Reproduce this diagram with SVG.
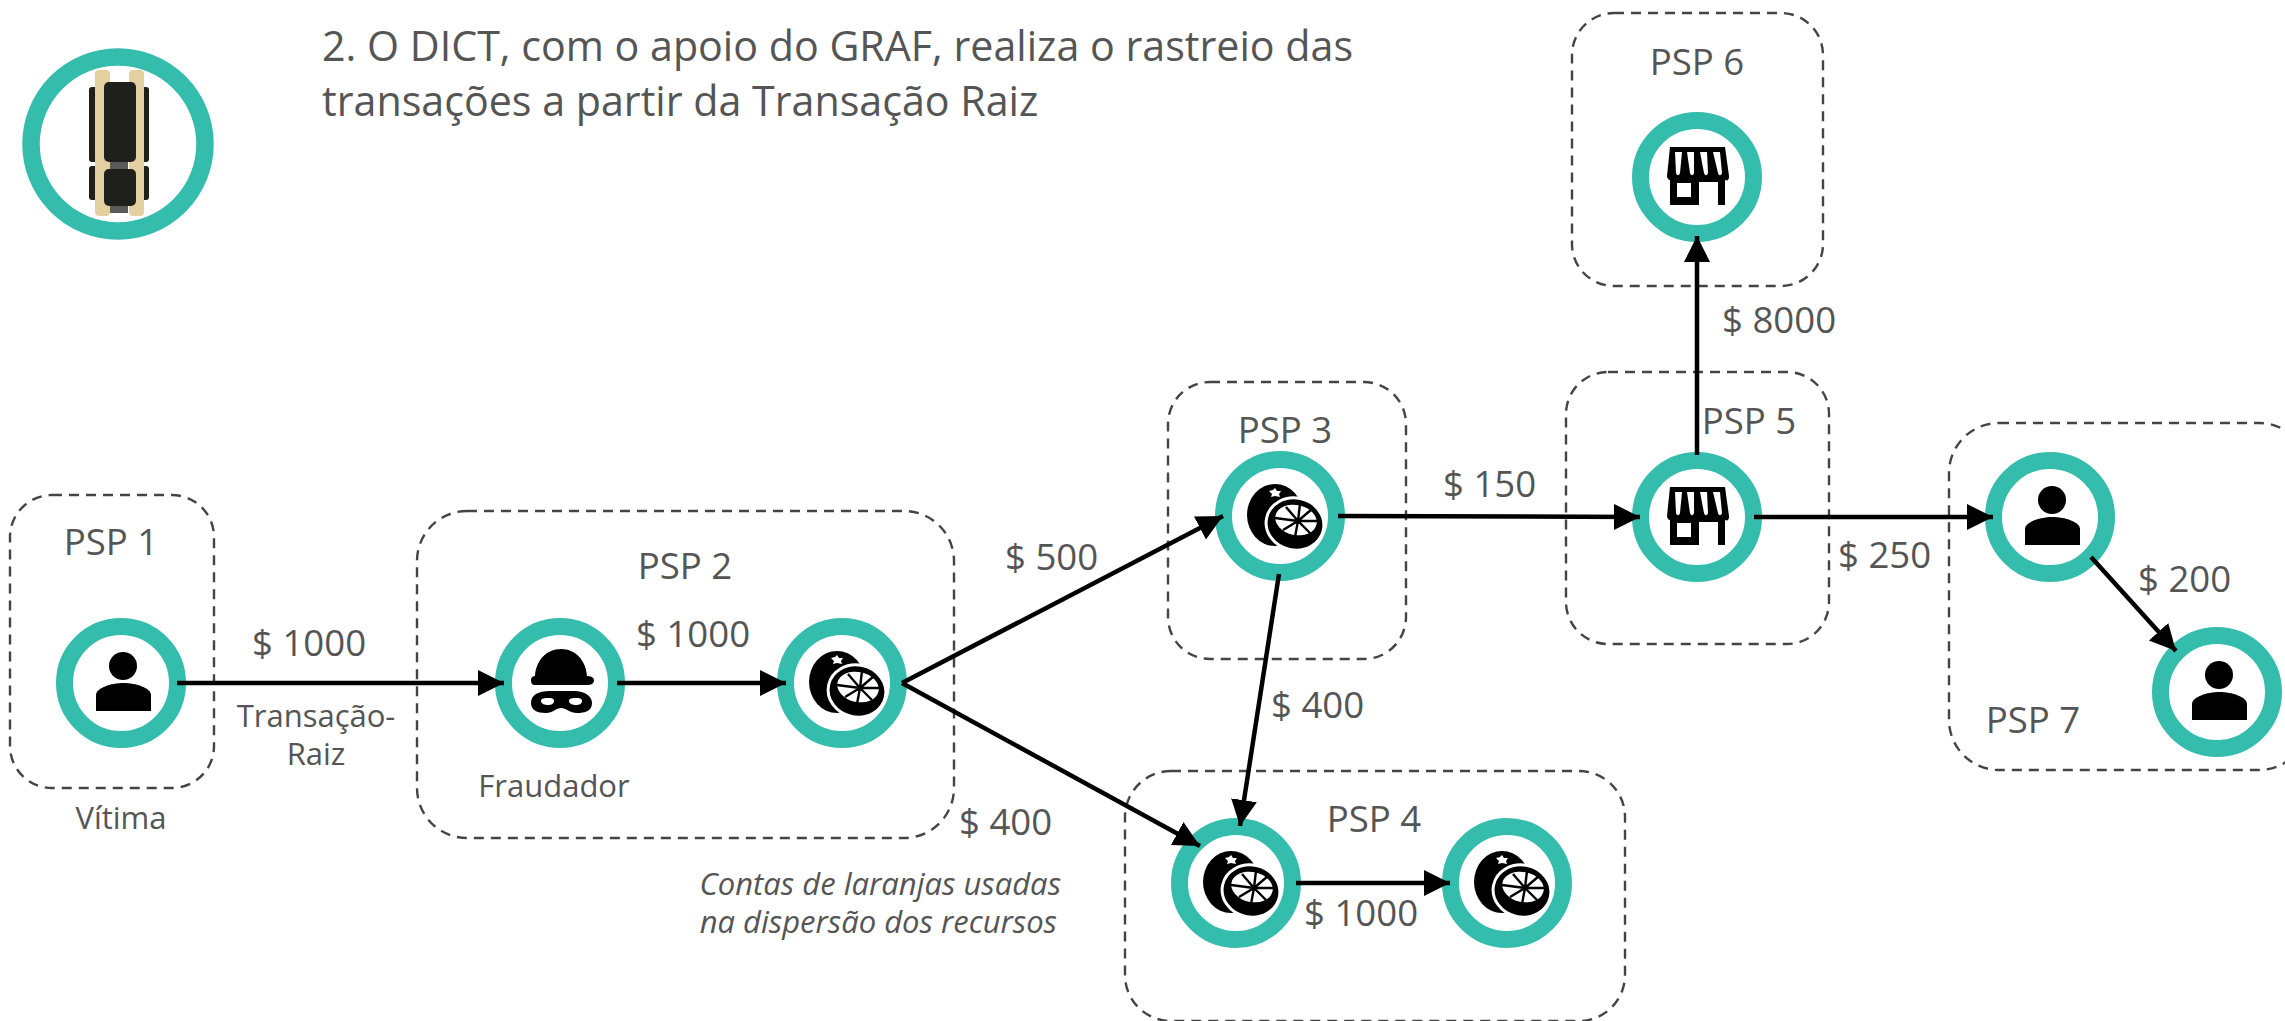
<svg xmlns="http://www.w3.org/2000/svg" width="2285" height="1021" viewBox="0 0 2285 1021">
<style>
text{font-family:"Open Sans","Noto Sans","Liberation Sans",sans-serif;fill:#555555}
.t{font-size:41.2px}
.l{font-size:36.6px}
.s{font-size:31px}
.i{font-size:31px;font-style:italic}
.m{text-anchor:middle}
.box{fill:none;stroke:#444444;stroke-width:2.4;stroke-dasharray:10 7}
.ring{fill:#fff;stroke:#34bdac;stroke-width:17}
.c{stroke:#000;stroke-width:4.5;fill:none;marker-end:url(#a)}
</style>
<defs>
<marker id="a" markerUnits="userSpaceOnUse" markerWidth="28" markerHeight="28" refX="26" refY="13" orient="auto"><path d="M0 0L26 13L0 26Z" fill="#000"/></marker>
<g id="person"><circle r="56.5" class="ring"/><circle cx="2" cy="-17" r="14"/><path d="M-25 28V12C-25 5-10 0 2.500 0S30 5 30 12V28Z"/></g>
<g id="orange"><circle r="56.5" class="ring"/><ellipse cx="-5" cy="-1" rx="28" ry="31" fill="#000"/><path d="M-5-28l2 3 4 0-2 3 1 3-5-1-4 1 1-3-3-3 4-1Z" fill="#fff"/><ellipse cx="15" cy="8" rx="29" ry="26" transform="rotate(12 15 8)" fill="#000" stroke="#fff" stroke-width="3"/><ellipse cx="16" cy="4" rx="21" ry="15" transform="rotate(12 16 4)" fill="#fff"/><path d="M18 5L20-12M18 5L32-7M18 5L38 5M18 5L30 17M18 5L15 21M18 5L3 14M18 5L-5 2M18 5L6-9" stroke="#000" stroke-width="2.4"/></g>
<g id="shop"><circle r="56.5" class="ring"/><path d="M-27-30H28L32-1V0C32 4 28 5 26 0C25 5 17 6 15 0C14 6 4 6 3 0C1 6-8 6-10 0C-11 6-19 6-21 0C-23 5-30 4-30-1Z" fill="#000"/><path d="M-22-25H-15L-17-4C-18-1-20-1-21-4ZM-10-25H-3L-3-4C-4-1-6-1-7-4ZM3-25H10L11-4C10-1 8-1 7-4ZM16-25H23L25-4C24-1 22-1 21-4Z" fill="#fff"/><path d="M-27 0H28V28H21V5H2V28H-27ZM-20 6V20H-6V6Z" fill="#000" fill-rule="evenodd"/></g>
</defs>
<g id="title"><text class="t" x="322" y="61">2. O DICT, com o apoio do GRAF, realiza o rastreio das</text><text class="t" x="322" y="116">transações a partir da Transação Raiz</text></g>
<g id="logo"><circle cx="118" cy="144" r="87" fill="#fff" stroke="#34bdac" stroke-width="17.5"/>
<rect x="89" y="87" width="12" height="75" rx="3" fill="#1f1f1c"/><rect x="137" y="87" width="12" height="75" rx="3" fill="#1f1f1c"/>
<rect x="89" y="166" width="12" height="34" rx="3" fill="#1f1f1c"/><rect x="137" y="166" width="12" height="34" rx="3" fill="#1f1f1c"/>
<rect x="95" y="70" width="15" height="146" rx="4" fill="#e3cf9f"/><rect x="129" y="70" width="15" height="146" rx="4" fill="#e3cf9f"/>
<rect x="110" y="160" width="18" height="10" fill="#5a5a58"/><rect x="110" y="204" width="18" height="9" fill="#5a5a58"/>
<rect x="104" y="82" width="32" height="80" rx="5" fill="#1f1f1c"/><rect x="104" y="169" width="32" height="37" rx="5" fill="#1f1f1c"/></g>
<g id="psp1"><rect class="box" x="10" y="495" width="204" height="293" rx="42"/><text class="l m" x="111" y="555">PSP 1</text><use href="#person" x="121" y="683"/><text class="s m" x="121" y="829">Vítima</text></g>
<g id="psp2"><rect class="box" x="417" y="511" width="537" height="327" rx="50"/><text class="l m" x="685" y="579">PSP 2</text>
<g id="fraudador"><circle cx="560" cy="683" r="56.5" class="ring"/><path d="M531 680C531 676 535 676 535 676C536 660 547 649 561 649S586 660 587 676C587 676 594 676 594 680S591 685 587 685H535C532 685 531 683 531 680Z"/><path fill-rule="evenodd" d="M531 703C531 695 538 691 550 691H574C585 691 592 696 592 703C592 711 585 713 577 713C570 713 566 708 561 708S553 713 546 713C537 713 531 710 531 703ZM541 701C541 704 545 705 548 705S554 704 554 701S551 698 548 698S541 698 541 701ZM569 701C569 704 573 705 576 705S582 704 582 701S579 698 576 698S569 698 569 701Z"/></g>
<use href="#orange" x="842" y="683"/><text class="s m" x="554" y="797">Fraudador</text></g>
<g id="psp3"><rect class="box" x="1168" y="382" width="238" height="277" rx="42"/><text class="l m" x="1285" y="443">PSP 3</text><use href="#orange" x="1280" y="516"/></g>
<g id="psp4"><rect class="box" x="1125" y="771" width="500" height="250" rx="46"/><text class="l m" x="1374" y="832">PSP 4</text><use href="#orange" x="1236" y="883"/><use href="#orange" x="1507" y="883"/></g>
<g id="psp5"><rect class="box" x="1566" y="372" width="263" height="272" rx="42"/><text class="l m" x="1749" y="434">PSP 5</text><use href="#shop" x="1697" y="517"/></g>
<g id="psp6"><rect class="box" x="1572" y="13" width="251" height="273" rx="42"/><text class="l m" x="1697" y="75">PSP 6</text><use href="#shop" x="1697" y="177"/></g>
<g id="psp7"><rect class="box" x="1949" y="423" width="360" height="347" rx="50"/><text class="l m" x="2033" y="733">PSP 7</text><use href="#person" x="2050" y="517"/><use href="#person" x="2217" y="692"/></g>
<g id="connectors">
<path class="c" d="M177 683H504"/><path class="c" d="M617 683H786"/>
<path class="c" d="M902 683L1223 516"/><path class="c" d="M902 683L1200 846"/>
<path class="c" d="M1279 574L1240 826"/><path class="c" d="M1338 516L1640 517"/>
<path class="c" d="M1296 883H1450"/><path class="c" d="M1697 455V236"/>
<path class="c" d="M1754 517H1993"/><path class="c" d="M2091 557L2176 651"/>
</g>
<g id="labels">
<text class="l" x="252" y="656">$ 1000</text><text class="s m" x="316" y="727">Transação-</text><text class="s m" x="316" y="765">Raiz</text>
<text class="l" x="1005" y="570">$ 500</text><text class="l" x="636" y="647">$ 1000</text><text class="l" x="959" y="835">$ 400</text>
<text class="l" x="1443" y="497">$ 150</text><text class="l" x="1271" y="718">$ 400</text><text class="l" x="1304" y="926">$ 1000</text>
<text class="l" x="1722" y="333">$ 8000</text><text class="l" x="1838" y="568">$ 250</text><text class="l" x="2138" y="592">$ 200</text>
<text class="i" text-anchor="end" x="1061" y="895">Contas de laranjas usadas</text><text class="i" text-anchor="end" x="1057" y="933">na dispersão dos recursos</text>
</g>
</svg>
